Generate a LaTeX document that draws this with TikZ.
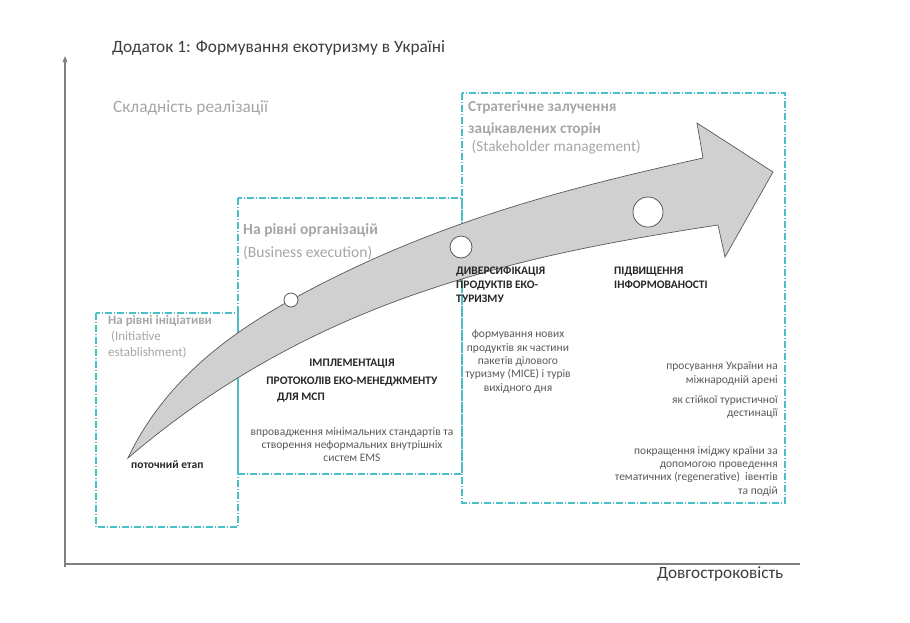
\documentclass[tikz,border=0pt]{standalone}
\usepackage{fontspec}
\setmainfont{Carlito}
\usepackage{xcolor}
\usetikzlibrary{arrows.meta,positioning}

\definecolor{stagecyan}{HTML}{4BBFC8}
\definecolor{headgray}{HTML}{A6A6A6}
\definecolor{bodygray}{HTML}{595959}
\definecolor{labelblack}{HTML}{262626}
\definecolor{arrowfill}{HTML}{D0D0D0}
\definecolor{axisgray}{HTML}{808080}

\tikzset{
  stagebox/.style={draw=stagecyan, line width=1.1pt, dash pattern=on 7pt off 2pt on 1pt off 2pt},
  stagehead/.style={text=headgray, inner sep=0pt, anchor=north west, align=left},
  steplabel/.style={text=labelblack, font=\bfseries\fontsize{11.5}{14}\selectfont, inner sep=0pt},
  stepnote/.style={text=bodygray, font=\fontsize{11.5}{13.3}\selectfont, inner sep=0pt},
  stagedot/.style={circle, draw=bodygray, fill=white, line width=0.8pt, inner sep=0pt}
}

\begin{document}
\begin{tikzpicture}[x=1pt, y=-1pt]
    \useasboundingbox (0,0) rectangle (910,622);

    % axes
    \coordinate (origin) at (65,567);
    \coordinate (ytop) at (65,56);
    \coordinate (xend) at (800,564);
    \draw[axisgray, line width=1.4pt, -{Triangle[length=6pt,width=4.5pt]}] (origin) -- (ytop);
    \draw[axisgray, line width=1.4pt] (65,564) -- (xend);

    \node[anchor=west, inner sep=0pt, text=labelblack!90, font=\fontsize{17.3}{20}\selectfont] (title) at (112,48) {Додаток 1: Формування екотуризму в Україні};
    \node[anchor=west, inner sep=0pt, text=headgray, font=\fontsize{17.3}{20}\selectfont] (ylabel) at (113,108) {Складність реалізації};
    \node[anchor=west, inner sep=0pt, text=labelblack!90, font=\fontsize{17.2}{20}\selectfont] (xlabel) at (657,574) {Довгостроковість};

    % stage frames
    \draw[stagebox] (96,313) rectangle (238,527);
    \draw[stagebox] (238,198) rectangle (462,474);
    \draw[stagebox] (462,93) rectangle (785,503);

    % the arrow
    \draw[fill=arrowfill, draw=bodygray, line width=0.7pt, line join=miter]
      (128,458) .. controls (165,380) and (231,333) .. (291,300)
      .. controls (431,223) and (563,189) .. (703,158)
      -- (697,123) -- (773,172) -- (725,257) -- (718,225)
      .. controls (633,238) and (547,253) .. (462,279)
      .. controls (352,312) and (238,364) .. (128,458)
      -- cycle;

    \node[stagedot, minimum size=14pt] (dotA) at (291,300) {};
    \node[stagedot, minimum size=22pt] (dotB) at (461,247) {};
    \node[stagedot, minimum size=30pt] (dotC) at (648,212) {};

    % stage 1
    \node[stagehead, font=\fontsize{13}{16}\selectfont] (initHead) at (108,315)
      {\textbf{На рівні ініціативи}\\ \ (Initiative\\establishment)};
    \node[steplabel, anchor=west] (nowStep) at (131,465) {поточний етап};

    % stage 2
    \node[stagehead, font=\fontsize{15.6}{23}\selectfont] (orgHead) at (243,223)
      {\textbf{На рівні організацій}\\(Business execution)};
    \node[steplabel, anchor=center] (implA) at (352,364) {ІМПЛЕМЕНТАЦІЯ};
    \node[steplabel, anchor=center] (implB) at (352,382) {ПРОТОКОЛІВ ЕКО-МЕНЕДЖМЕНТУ};
    \node[steplabel, anchor=west] (implC) at (277,398) {ДЛЯ МСП};
    \node[stepnote, anchor=north, align=center] (implNote) at (352,427)
      {впровадження мінімальних стандартів та\\створення неформальних внутрішніх\\систем EMS};

    % stage 3
    \node[stagehead, font=\fontsize{15.3}{21.5}\selectfont] (stakeHead) at (468,101)
      {\textbf{Стратегічне залучення}\\\textbf{зацікавлених сторін}\\[-3.5pt] \ (Stakeholder management)};
    \node[steplabel, anchor=north west, align=left] (diverStep) at (456,267)
      {ДИВЕРСИФІКАЦІЯ\\ПРОДУКТІВ ЕКО-\\ТУРИЗМУ};
    \node[stepnote, anchor=north, align=center] (diverNote) at (518,330)
      {формування нових\\продуктів як частини\\пакетів ділового\\туризму (MICE) і турів\\вихідного дня};
    \node[steplabel, anchor=north west, align=left] (infoStep) at (614,267)
      {ПІДВИЩЕННЯ\\ІНФОРМОВАНОСТІ};
    \node[stepnote, anchor=north east, align=right] (promoA) at (778,362)
      {просування України на\\міжнародній арені};
    \node[stepnote, anchor=north east, align=right] (promoB) at (778,395)
      {як стійкої туристичної\\дестинації};
    \node[stepnote, anchor=north east, align=right] (promoC) at (778,446)
      {покращення іміджу країни за\\допомогою проведення\\тематичних (regenerative)\ \ івентів\\та подій};
\end{tikzpicture}
\end{document}
